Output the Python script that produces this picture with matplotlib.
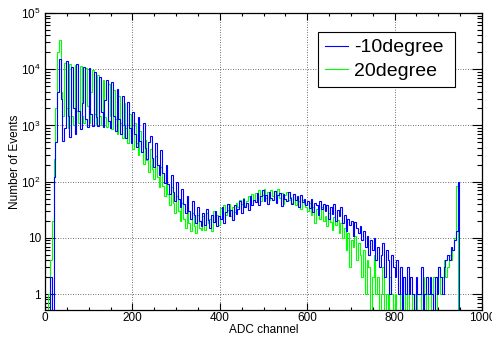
import numpy as np
import matplotlib
matplotlib.use("Agg")
import matplotlib.pyplot as plt
from matplotlib.ticker import FixedLocator, FixedFormatter, MultipleLocator

plt.rcParams['font.family'] = ['Liberation Sans', 'DejaVu Sans']
plt.rcParams['mathtext.fontset'] = 'custom'
plt.rcParams['mathtext.rm'] = 'Liberation Sans'

# histogram binning: 4 ADC channels per bin
bin_width = 4

# counts per bin, detector at -10 degree
blue_counts = [
    0, 0, 0, 2, 0, 120, 500, 4000, 15000, 3000,
    520, 900, 14000, 1500, 620, 11000, 2000, 700, 12500, 1800,
    850, 2500, 11000, 1300, 950, 10500, 1600, 980, 9000, 1400,
    960, 7200, 1700, 940, 2800, 6500, 1200, 900, 5900, 1500,
    800, 4500, 1300, 700, 3300, 1000, 600, 2600, 900, 480,
    1700, 700, 420, 1400, 520, 330, 1100, 400, 250, 500,
    650, 260, 180, 480, 200, 130, 370, 140, 95, 200,
    90, 60, 130, 65, 45, 100, 50, 35, 75, 40,
    28, 55, 30, 22, 45, 25, 18, 35, 20, 16,
    28, 17, 33, 21, 15, 26, 19, 30, 16, 24,
    22, 35, 18, 29, 40, 24, 31, 21, 38, 27,
    33, 45, 28, 50, 36, 42, 31, 55, 39, 47,
    44, 62, 38, 55, 70, 46, 58, 40, 66, 52,
    48, 68, 42, 57, 63, 37, 60, 50, 45, 65,
    52, 40, 61, 47, 56, 36, 58, 44, 50, 39,
    46, 34, 50, 29, 42, 38, 26, 45, 33, 40,
    30, 38, 22, 35, 27, 40, 20, 31, 24, 36,
    18, 26, 13, 22, 17, 20, 11, 19, 15, 12,
    16, 9, 13, 7, 11, 5, 9, 6, 10, 4,
    7, 3, 5, 8, 2, 6, 4, 1, 5, 3,
    2, 4, 1, 3, 0, 2, 1, 3, 1, 2,
    1, 0, 2, 1, 1, 3, 0, 1, 2, 1,
    2, 1, 0, 2, 1, 3, 2, 1, 3, 4,
    5, 4, 7, 6, 9, 13, 100, 0, 0, 0,
]

# counts per bin, detector at 20 degree
green_counts = [
    0, 0, 1, 4, 20, 250, 2000, 20000, 33000, 4000,
    1500, 13000, 2000, 900, 12500, 1500, 1000, 12000, 1800, 1100,
    11500, 1500, 1100, 10500, 2200, 1100, 4000, 9500, 1600, 1050,
    8000, 1500, 1000, 6500, 1400, 950, 5500, 1500, 850, 4200,
    1300, 700, 3300, 1100, 600, 2500, 900, 480, 1600, 650,
    380, 1100, 480, 300, 800, 330, 210, 560, 240, 150,
    380, 170, 110, 280, 120, 80, 180, 85, 55, 120,
    60, 38, 80, 42, 28, 55, 30, 20, 42, 22,
    15, 35, 18, 13, 28, 16, 12, 25, 15, 14,
    24, 14, 28, 18, 22, 13, 30, 19, 25, 17,
    34, 22, 38, 26, 31, 40, 24, 36, 29, 42,
    35, 48, 40, 52, 37, 45, 55, 42, 60, 48,
    62, 50, 70, 46, 58, 74, 52, 65, 48, 72,
    55, 68, 45, 75, 52, 62, 40, 58, 66, 47,
    54, 42, 60, 38, 50, 45, 33, 48, 40, 36,
    30, 42, 25, 35, 18, 32, 27, 22, 36, 20,
    24, 16, 28, 19, 14, 23, 17, 21, 12, 18,
    10, 15, 6, 12, 3, 9, 7, 11, 4, 8,
    5, 2, 6, 1, 4, 3, 0, 2, 5, 1,
    2, 0, 1, 3, 0, 1, 0, 2, 1, 0,
    1, 0, 0, 1, 0, 2, 0, 1, 0, 0,
    1, 0, 1, 0, 0, 1, 2, 0, 1, 0,
    0, 1, 2, 0, 1, 3, 1, 2, 4, 2,
    3, 5, 4, 6, 10, 85, 0, 0, 0, 0,
]

labels = ["-10degree", "20degree"]
y_ticks = [1, 10, 100, 1000, 10000, 100000]
y_tick_labels = ["1", "10", r"$\mathregular{10^{2}}$", r"$\mathregular{10^{3}}$",
                 r"$\mathregular{10^{4}}$", r"$\mathregular{10^{5}}$"]

edges = np.arange(len(blue_counts) + 1) * bin_width


def for_log(counts):
    # empty bins drop below the frame on a log axis
    c = np.array(counts, dtype=float)
    return np.where(c > 0, c, 0.05)


fig = plt.figure(figsize=(4.92, 3.38), dpi=100)
ax = fig.add_axes([45 / 492, 28 / 338, 437 / 492, 297 / 338])

ax.stairs(for_log(green_counts), edges, baseline=None, color=(0, 1, 0),
          lw=0.8, label=labels[1], zorder=2)
ax.stairs(for_log(blue_counts), edges, baseline=None, color=(0, 0, 1),
          lw=0.8, label=labels[0], zorder=3)

ax.set_yscale('log')
ax.set_xlim(0, 1000)
ax.set_ylim(0.52, 1e5)

ax.xaxis.set_major_locator(MultipleLocator(200))
ax.xaxis.set_minor_locator(MultipleLocator(50))
ax.yaxis.set_major_locator(FixedLocator(y_ticks))
ax.yaxis.set_major_formatter(FixedFormatter(y_tick_labels))
ax.yaxis.set_minor_locator(FixedLocator(
    [m * 10.0 ** e for e in range(-1, 5) for m in range(2, 10)]))

ax.tick_params(axis='both', which='both', direction='in', top=True, right=True,
               labelsize=8.5, width=0.8, colors='black')
ax.tick_params(axis='x', which='major', length=5)
ax.tick_params(axis='x', which='minor', length=2.5)
ax.tick_params(axis='y', which='major', length=7)
ax.tick_params(axis='y', which='minor', length=3.5)
ax.tick_params(axis='x', pad=1.5)
ax.tick_params(axis='y', pad=3)

for s in ax.spines.values():
    s.set_linewidth(0.9)

ax.grid(True, which='major', color='0.25', linestyle=(0, (1, 2)), linewidth=0.6)
ax.set_axisbelow(True)

ax.set_xlabel("ADC channel", fontsize=8.5, va='center')
ax.xaxis.set_label_coords(0.5, -20 / 297)
ax.set_ylabel("Number of Events", fontsize=8.5, va='center')
ax.yaxis.set_label_coords(-30 / 437, 0.5)

handles, names = ax.get_legend_handles_labels()
leg = ax.legend(handles[::-1], names[::-1], loc='upper left',
                bbox_to_anchor=(0.625, 0.936, 0.313, 0.0), mode='expand',
                fontsize=14, frameon=True, fancybox=False, framealpha=1,
                edgecolor='black', borderpad=0.35, handlelength=1.2,
                handletextpad=0.3, labelspacing=0.3, borderaxespad=0)
leg.get_frame().set_linewidth(0.8)

plt.savefig("out.png", dpi=100)
